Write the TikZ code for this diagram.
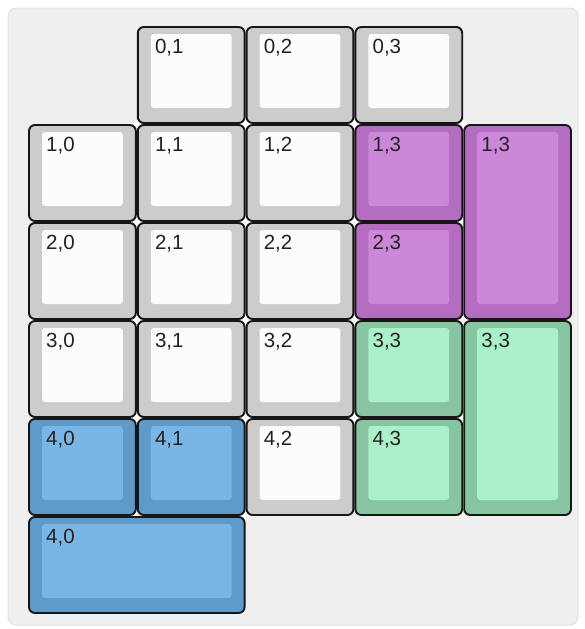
\documentclass[tikz,border=0pt]{standalone}
\usepackage{fontspec}
\setmainfont{Liberation Sans}
\definecolor{grayout}{HTML}{CCCCCC}
\definecolor{grayin}{HTML}{FCFCFC}
\definecolor{purpout}{HTML}{B46DC1}
\definecolor{purpin}{HTML}{CC88D8}
\definecolor{greenout}{HTML}{87C5A0}
\definecolor{greenin}{HTML}{AAF0C9}
\definecolor{blueout}{HTML}{5E9BCB}
\definecolor{bluein}{HTML}{7AB6E5}
\definecolor{panelfill}{HTML}{EFEFEF}
\definecolor{paneledge}{HTML}{E2E2E2}
\definecolor{keyline}{HTML}{161616}
\definecolor{labeltext}{HTML}{222222}
\tikzset{
  panel/.style={fill=panelfill, draw=paneledge, line width=1pt, rounded corners=8pt},
  keyedge/.style={draw=keyline, line width=1.9pt, rounded corners=6pt},
  keylabel/.style={anchor=north west, inner sep=0pt, text=labeltext, font=\fontsize{20.5}{24}\selectfont},
  gapdot/.style={fill=white, draw=none}
}
\newcommand{\kbkey}[7]{%
  \pgfmathsetmacro{\kxa}{28+108.8*#2}%
  \pgfmathsetmacro{\kya}{26+98*#3}%
  \pgfmathsetmacro{\kxb}{28+108.8*(#2+#4)}%
  \pgfmathsetmacro{\kyb}{26+98*(#3+#5)}%
  \draw[keyedge, fill=#6out] (\kxa+1,\kya+1) rectangle (\kxb-1,\kyb-1);
  \fill[#6in, rounded corners=3pt] (\kxa+14,\kya+8) rectangle (\kxb-14,\kyb-16);
  \node[keylabel] (#1) at (\kxa+18,\kya+13) {#7};
}
\begin{document}
\begin{tikzpicture}[x=1pt,y=-1pt]
\useasboundingbox (0,0) rectangle (584,629);
\fill[white] (0,0) rectangle (584,629);
\draw[panel] (8,8) rectangle (578,625);
% white gaps where key corners meet
\foreach \i/\j in {1/1,2/1,3/1,4/1,1/2,2/2,3/2,4/2,1/3,2/3,3/3,4/3,1/4,2/4,3/4,4/4,1/5,2/5}{
  \fill[gapdot] ({28+108.8*\i},{26+98*\j}) circle (4);
}
% row 0
\kbkey{k01}{1}{0}{1}{1}{gray}{0,1}
\kbkey{k02}{2}{0}{1}{1}{gray}{0,2}
\kbkey{k03}{3}{0}{1}{1}{gray}{0,3}
% row 1
\kbkey{k10}{0}{1}{1}{1}{gray}{1,0}
\kbkey{k11}{1}{1}{1}{1}{gray}{1,1}
\kbkey{k12}{2}{1}{1}{1}{gray}{1,2}
\kbkey{k13}{3}{1}{1}{1}{purp}{1,3}
\kbkey{k13b}{4}{1}{1}{2}{purp}{1,3}
% row 2
\kbkey{k20}{0}{2}{1}{1}{gray}{2,0}
\kbkey{k21}{1}{2}{1}{1}{gray}{2,1}
\kbkey{k22}{2}{2}{1}{1}{gray}{2,2}
\kbkey{k23}{3}{2}{1}{1}{purp}{2,3}
% row 3
\kbkey{k30}{0}{3}{1}{1}{gray}{3,0}
\kbkey{k31}{1}{3}{1}{1}{gray}{3,1}
\kbkey{k32}{2}{3}{1}{1}{gray}{3,2}
\kbkey{k33}{3}{3}{1}{1}{green}{3,3}
\kbkey{k33b}{4}{3}{1}{2}{green}{3,3}
% row 4
\kbkey{k40}{0}{4}{1}{1}{blue}{4,0}
\kbkey{k41}{1}{4}{1}{1}{blue}{4,1}
\kbkey{k42}{2}{4}{1}{1}{gray}{4,2}
\kbkey{k43}{3}{4}{1}{1}{green}{4,3}
% row 5
\kbkey{k40b}{0}{5}{2}{1}{blue}{4,0}
\end{tikzpicture}
\end{document}
